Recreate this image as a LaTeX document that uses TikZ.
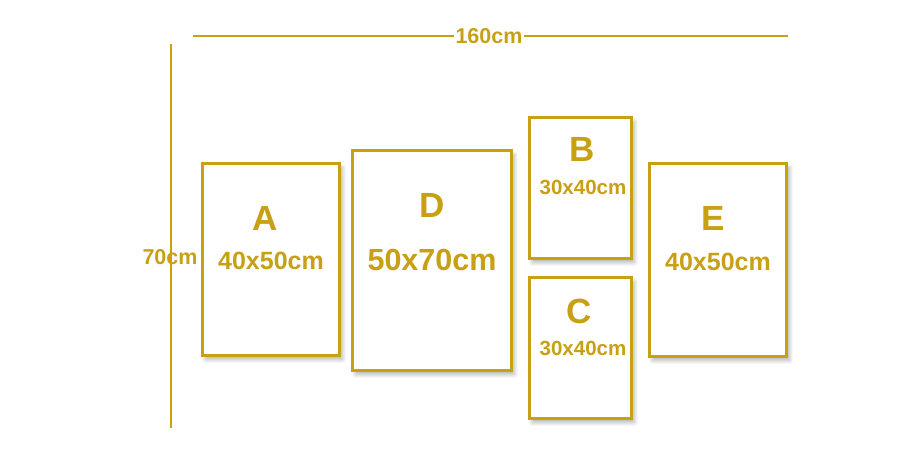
\documentclass[tikz,border=0pt]{standalone}
\usepackage{fontspec}
\setmainfont{Liberation Sans}
\usetikzlibrary{shadows.blur}
\definecolor{gold}{RGB}{200,160,20}

\begin{document}
\begin{tikzpicture}[x=1pt,y=-1pt,line width=2pt]
  \tikzstyle{frame}=[draw=gold,line width=2.6pt,fill=white,inner sep=0pt,
    blur shadow={shadow xshift=3pt,shadow yshift=-4pt,shadow blur radius=4pt,shadow blur steps=8,shadow opacity=30}]
  \tikzstyle{letter}=[text=gold,inner sep=0pt,font=\fontsize{35}{36}\selectfont\bfseries]
  \tikzstyle{size}=[text=gold,inner sep=0pt,font=\fontsize{25}{26}\selectfont\bfseries]
  \tikzstyle{bigsize}=[size,font=\fontsize{30.5}{31}\selectfont\bfseries]
  \tikzstyle{smallsize}=[size,font=\fontsize{20.5}{21}\selectfont\bfseries]
  \tikzstyle{dimlabel}=[text=gold,inner sep=1pt,font=\fontsize{21.5}{22}\selectfont\bfseries]
  \tikzstyle{dimline}=[draw=gold,line width=2pt]
  \useasboundingbox (0,0) rectangle (920,472);
  % frames
  \node[frame,minimum width=137pt,minimum height=192pt] (A) at (271,259.5) {};
  \node[frame,minimum width=159pt,minimum height=220pt] (D) at (432,260.5) {};
  \node[frame,minimum width=102pt,minimum height=141pt] (B) at (580.5,188) {};
  \node[frame,minimum width=102pt,minimum height=141pt] (C) at (580.5,348) {};
  \node[frame,minimum width=137pt,minimum height=193pt] (E) at (718,260) {};
  % labels
  \node[letter] (la) at (265,218) {A};
  \node[size] (sa) at (271,261) {40x50cm};
  \node[letter] (ld) at (432,205) {D};
  \node[bigsize] (sd) at (432,260) {50x70cm};
  \node[letter] (lb) at (582,149) {B};
  \node[smallsize] (sb) at (583,187) {30x40cm};
  \node[letter] (lc) at (579,311) {C};
  \node[smallsize] (sc) at (583,348) {30x40cm};
  \node[letter] (le) at (713,218) {E};
  \node[size] (se) at (718,262) {40x50cm};
  % dimensions
  \coordinate (wl) at (193,36);
  \coordinate (wr) at (788,36);
  \node[dimlabel] (w) at (489,36) {160cm};
  \draw[dimline] (wl) -- (w) (w) -- (wr);
  \coordinate (ht) at (171,44);
  \coordinate (hb) at (171,428);
  \draw[dimline] (ht) -- (hb);
  \node[dimlabel,inner sep=0pt] (h) at (170,257) {70cm};
\end{tikzpicture}
\end{document}
